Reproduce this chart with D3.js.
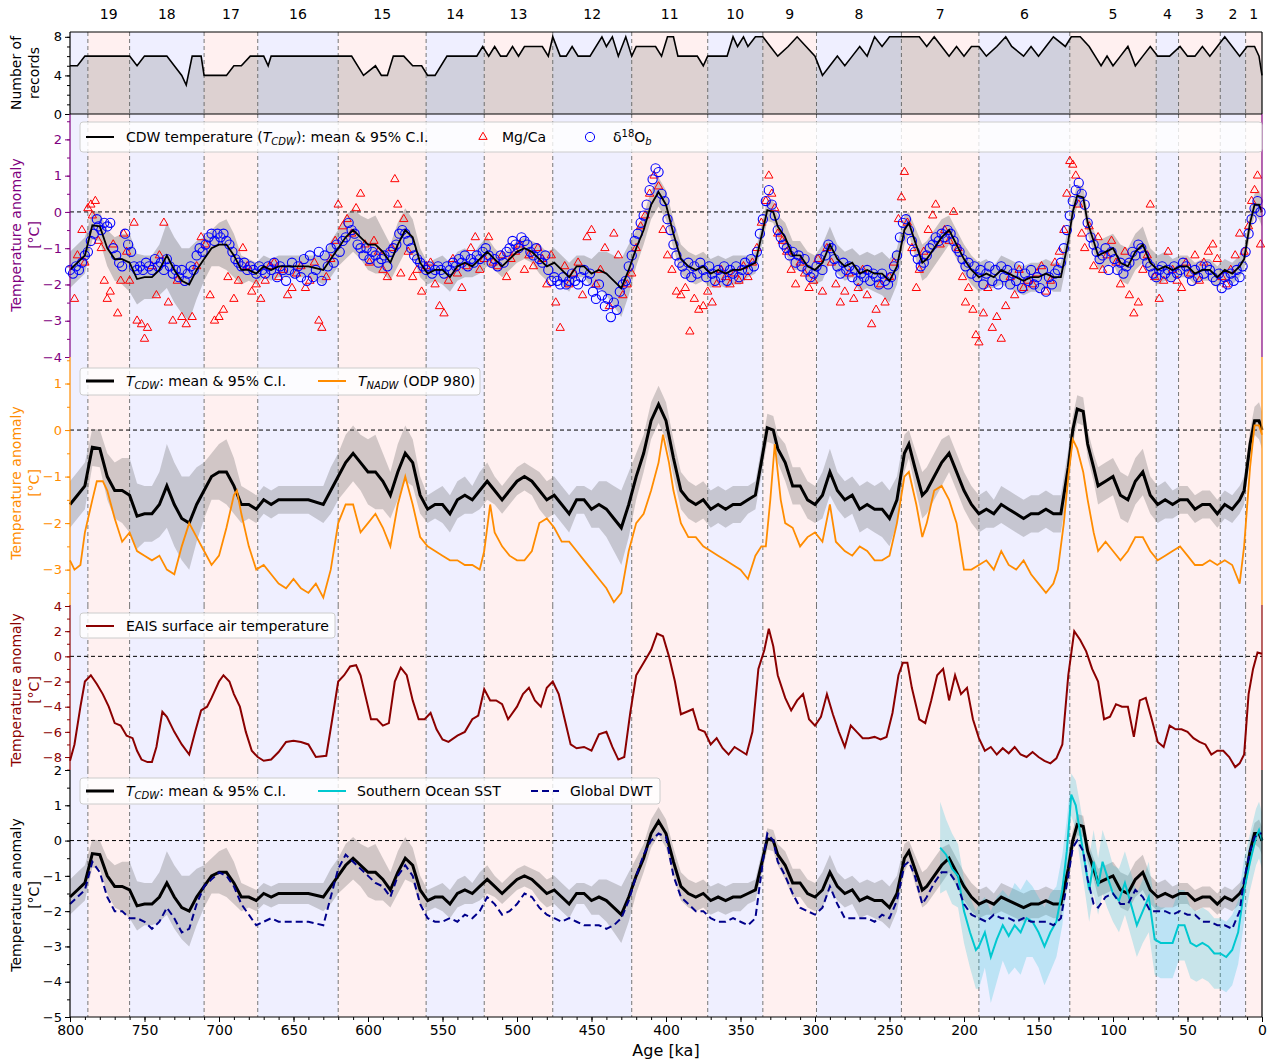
<!DOCTYPE html>
<html><head><meta charset="utf-8">
<script src="https://cdn.jsdelivr.net/npm/d3@7"></script>
<style>body{margin:0;background:#fff}svg{font-family:"DejaVu Sans",sans-serif}</style>
</head><body><svg id="c" width="1274" height="1063"></svg>
<script>
// MIS stage boundaries (ka) and labels
const bounds = [800, 788, 760, 710, 674, 620, 561, 522, 476, 423, 372, 335, 299, 242, 190, 129, 71, 56, 28, 11, 0];
const stageNames = [20, 19, 18, 17, 16, 15, 14, 13, 12, 11, 10, 9, 8, 7, 6, 5, 4, 3, 2, 1];

// number of records
const recAge = [800,795,790,785,760,755,750,735,730,725,722,718,712,710,695,690,685,679,670,667,665,611,603,595,591,587,583,576,570,564,560,555,547,527,523,519,515,511,507,503,499,495,483,479,476,471,467,463,459,451,443,440,436,432,427,423,420,407,403,399,395,392,379,375,372,359,355,352,348,345,340,335,330,325,318,312,306,300,295,290,285,280,275,270,265,260,255,250,240,230,225,220,215,210,205,200,195,190,185,178,172,168,160,155,150,145,140,132,128,122,116,112,108,104,100,95,90,85,80,75,70,62,55,50,45,40,35,30,25,20,15,10,5,2,0];
const recN =   [5,5,6,6,6,5,6,6,5,4,3,6,6,4,4,5,5,6,6,5,6,6,4,5,4,4,6,6,5,5,4,4,6,6,7,6,7,6,6,7,6,7,7,6,8,6,6,7,6,6,8,7,8,6,8,6,7,7,6,8,8,6,6,5,6,6,8,7,8,7,8,8,7,6,7,8,7,6,4,5,6,5,6,7,6,8,7,8,8,8,7,8,7,6,7,6,7,7,6,7,8,7,6,7,6,7,8,7,8,8,7,6,5,6,5,6,7,5,6,7,6,6,7,6,6,7,6,7,8,7,6,7,7,6,4];

// CDW temperature stack: ages, mean, 95% CI half width
const cdwAge = [800,795,790,785,780,775,770,765,760,755,750,745,740,735,730,725,720,715,710,705,700,695,690,685,680,675,670,665,660,650,640,630,625,620,615,610,605,600,595,590,585,580,575,570,565,560,555,550,545,540,535,530,525,520,515,510,505,500,495,490,485,480,475,470,465,460,455,450,445,440,435,430,425,420,415,410,405,400,395,390,385,380,375,370,365,360,355,350,345,340,335,332,328,325,320,315,310,305,300,295,290,285,280,275,270,265,260,255,250,245,240,237,233,228,225,220,215,210,205,200,195,190,185,180,175,170,165,160,155,150,145,140,135,130,127,124,120,117,113,110,105,100,95,90,85,80,75,70,65,60,55,50,45,40,35,30,25,20,15,12,8,5,2,0];
const cdwMean = [-1.6,-1.4,-1.2,-0.37,-0.4,-1.0,-1.3,-1.3,-1.4,-1.85,-1.8,-1.8,-1.6,-1.2,-1.6,-1.9,-2.0,-1.6,-1.3,-1.0,-0.9,-0.9,-1.2,-1.6,-1.6,-1.7,-1.5,-1.6,-1.5,-1.5,-1.5,-1.6,-1.3,-1.0,-0.7,-0.5,-0.7,-0.9,-0.9,-1.1,-1.4,-0.9,-0.5,-0.7,-1.4,-1.7,-1.6,-1.6,-1.8,-1.5,-1.4,-1.5,-1.3,-1.1,-1.3,-1.5,-1.3,-1.1,-1.0,-1.1,-1.3,-1.5,-1.4,-1.6,-1.8,-1.5,-1.5,-1.7,-1.6,-1.7,-1.9,-2.1,-1.6,-1.0,-0.5,0.2,0.55,0.2,-0.6,-1.3,-1.5,-1.6,-1.5,-1.7,-1.6,-1.7,-1.6,-1.6,-1.5,-1.4,-0.5,0.05,0.0,-0.4,-0.7,-1.2,-1.2,-1.5,-1.6,-1.4,-0.9,-1.3,-1.5,-1.4,-1.7,-1.6,-1.7,-1.7,-1.9,-1.5,-0.5,-0.3,-0.8,-1.4,-1.3,-1.0,-0.7,-0.5,-0.9,-1.3,-1.6,-1.8,-1.7,-1.8,-1.6,-1.7,-1.8,-1.9,-1.8,-1.8,-1.7,-1.8,-1.8,-0.8,0.0,0.45,0.4,-0.3,-0.8,-1.2,-1.1,-1.0,-1.4,-1.5,-1.1,-0.9,-1.4,-1.6,-1.5,-1.6,-1.5,-1.5,-1.7,-1.6,-1.6,-1.8,-1.6,-1.7,-1.5,-1.3,-0.3,0.2,0.2,0.0];
const cdwCI = [0.5,0.5,0.5,0.4,0.4,0.5,0.6,0.7,0.8,0.7,0.6,0.6,0.7,0.9,0.9,0.9,1.0,0.8,0.6,0.5,0.6,0.7,0.6,0.4,0.3,0.3,0.3,0.3,0.3,0.3,0.3,0.4,0.5,0.5,0.6,0.6,0.6,0.7,0.8,0.6,0.5,0.6,0.6,0.5,0.4,0.3,0.3,0.4,0.4,0.4,0.4,0.3,0.4,0.4,0.3,0.3,0.3,0.3,0.3,0.3,0.4,0.4,0.4,0.4,0.4,0.3,0.3,0.4,0.5,0.6,0.7,0.8,0.7,0.5,0.4,0.4,0.4,0.4,0.4,0.4,0.4,0.4,0.4,0.4,0.4,0.4,0.4,0.4,0.3,0.3,0.3,0.3,0.3,0.3,0.4,0.4,0.4,0.4,0.4,0.5,0.5,0.4,0.4,0.4,0.5,0.5,0.5,0.6,0.6,0.5,0.4,0.3,0.4,0.5,0.5,0.5,0.5,0.4,0.4,0.4,0.4,0.4,0.4,0.3,0.4,0.4,0.4,0.4,0.4,0.4,0.4,0.4,0.4,0.4,0.3,0.3,0.3,0.3,0.3,0.4,0.4,0.4,0.5,0.5,0.5,0.5,0.4,0.4,0.4,0.3,0.3,0.3,0.3,0.3,0.3,0.3,0.3,0.3,0.3,0.3,0.3,0.3,0.4,0.4,0.3,0.3];

// d18O_b based temperatures [age, value]
const d18o = [[800,-1.6],[798,-1.7],[796,-1.5],[794,-1.6],[792,-1.4],[790,-1.2],[788,-1.1],[786,-0.8],[784,-0.6],[782,-0.2],[781,-0.4],[779,-0.5],[777,-0.3],[775,-0.4],[773,-0.3],[771,-1.0],[769,-1.2],[767,-1.4],[765,-1.5],[763,-0.6],[761,-0.9],[759,-1.1],[757,-1.5],[755,-1.6],[753,-1.5],[751,-1.6],[749,-1.4],[747,-1.5],[745,-1.6],[743,-1.3],[741,-1.5],[739,-1.4],[737,-1.6],[735,-1.3],[733,-1.5],[731,-1.7],[729,-1.6],[727,-1.8],[725,-1.6],[723,-1.9],[721,-1.7],[719,-1.5],[717,-1.6],[715,-1.2],[713,-1.0],[711,-1.1],[709,-0.9],[707,-0.7],[705,-0.6],[703,-0.8],[701,-0.6],[699,-0.7],[697,-0.6],[695,-0.8],[693,-0.9],[691,-1.1],[689,-1.3],[687,-1.4],[685,-1.5],[683,-1.4],[681,-1.6],[679,-1.5],[677,-1.6],[675,-1.7],[673,-1.5],[671,-1.6],[669,-1.7],[667,-1.5],[665,-1.6],[663,-1.4],[661,-1.8],[659,-1.5],[657,-1.6],[655,-1.9],[653,-1.6],[651,-1.4],[649,-1.7],[647,-1.5],[645,-1.8],[643,-1.3],[641,-1.9],[639,-1.2],[637,-1.8],[635,-1.6],[633,-1.1],[631,-1.9],[629,-1.2],[627,-1.5],[625,-1.0],[623,-1.4],[621,-0.9],[619,-1.1],[617,-0.8],[615,-0.7],[613,-0.3],[611,-0.5],[609,-0.6],[607,-0.9],[605,-1.0],[603,-1.2],[601,-1.0],[599,-1.3],[597,-1.1],[595,-1.2],[593,-1.4],[591,-1.3],[589,-1.2],[587,-1.5],[585,-1.1],[583,-1.0],[581,-0.9],[579,-0.6],[577,-0.5],[575,-0.6],[573,-0.8],[571,-1.0],[569,-1.2],[567,-1.3],[565,-1.4],[563,-1.5],[561,-1.6],[559,-1.5],[557,-1.7],[555,-1.6],[553,-1.5],[551,-1.6],[549,-1.7],[547,-1.5],[545,-1.6],[543,-1.4],[541,-1.5],[539,-1.3],[537,-1.4],[535,-1.2],[533,-1.5],[531,-1.3],[529,-1.4],[527,-1.2],[525,-1.3],[523,-1.1],[521,-1.0],[519,-1.2],[517,-1.4],[515,-1.3],[513,-1.5],[511,-1.2],[509,-1.4],[507,-1.1],[505,-1.0],[503,-0.8],[501,-0.9],[499,-1.0],[497,-0.7],[495,-0.8],[493,-0.9],[491,-1.1],[489,-1.2],[487,-1.0],[485,-1.3],[483,-1.4],[481,-1.2],[479,-1.6],[477,-1.9],[475,-1.8],[473,-1.9],[471,-2.0],[469,-1.8],[467,-2.0],[465,-1.9],[463,-1.7],[461,-1.9],[459,-2.0],[457,-1.8],[455,-1.6],[453,-1.9],[451,-1.7],[449,-2.2],[447,-2.4],[445,-2.0],[443,-2.3],[441,-2.6],[439,-2.4],[437,-2.9],[435,-2.5],[433,-2.7],[431,-2.2],[429,-2.0],[427,-1.9],[425,-1.5],[423,-1.2],[421,-0.8],[419,-0.6],[417,-0.3],[415,-0.1],[413,0.2],[411,0.6],[409,0.9],[407,1.2],[405,1.1],[403,0.5],[401,0.3],[399,-0.2],[397,-0.5],[395,-0.9],[393,-1.2],[391,-1.4],[389,-1.5],[387,-1.7],[385,-1.4],[383,-1.8],[381,-1.5],[379,-1.7],[377,-1.4],[375,-1.6],[373,-1.8],[371,-1.5],[369,-1.7],[367,-1.9],[365,-1.6],[363,-1.8],[361,-1.5],[359,-1.9],[357,-1.6],[355,-1.7],[353,-1.5],[351,-1.8],[349,-1.6],[347,-1.4],[345,-1.6],[343,-1.3],[341,-1.5],[339,-1.1],[337,-0.6],[335,-0.2],[333,0.3],[331,0.6],[329,0.2],[327,-0.1],[325,-0.5],[323,-0.7],[321,-0.9],[319,-1.0],[317,-1.2],[315,-1.1],[313,-1.4],[311,-1.2],[309,-1.5],[307,-1.3],[305,-1.6],[303,-1.8],[301,-1.7],[299,-1.5],[297,-1.3],[295,-1.6],[293,-1.2],[291,-0.9],[289,-1.0],[287,-1.3],[285,-1.5],[283,-1.7],[281,-1.4],[279,-1.6],[277,-1.5],[275,-1.8],[273,-1.6],[271,-1.9],[269,-1.7],[267,-1.8],[265,-1.6],[263,-1.9],[261,-1.7],[259,-1.8],[257,-2.0],[255,-1.7],[253,-1.9],[251,-2.0],[249,-1.8],[247,-1.5],[245,-1.2],[243,-0.7],[241,-0.3],[239,-0.2],[237,-0.5],[235,-0.8],[233,-1.1],[231,-1.3],[229,-1.5],[227,-1.4],[225,-1.2],[223,-1.0],[221,-0.9],[219,-0.7],[217,-0.8],[215,-0.6],[213,-0.7],[211,-0.5],[209,-0.6],[207,-0.8],[205,-1.0],[203,-1.1],[201,-1.3],[199,-1.5],[197,-1.4],[195,-1.7],[193,-1.5],[191,-1.8],[189,-1.6],[187,-2.0],[185,-1.7],[183,-1.5],[181,-1.9],[179,-1.6],[177,-2.0],[175,-1.5],[173,-1.8],[171,-1.6],[169,-2.0],[167,-1.7],[165,-1.9],[163,-1.5],[161,-2.1],[159,-1.7],[157,-1.9],[155,-1.6],[153,-2.0],[151,-1.8],[149,-2.1],[147,-1.6],[145,-2.2],[143,-1.8],[141,-2.0],[139,-1.7],[137,-1.6],[135,-1.4],[133,-1.0],[131,-0.5],[129,-0.1],[127,0.3],[125,0.6],[123,0.8],[121,0.5],[119,0.2],[117,-0.3],[115,-0.7],[113,-0.9],[111,-1.1],[109,-1.3],[107,-1.2],[105,-1.0],[103,-1.6],[101,-1.1],[99,-1.3],[97,-1.6],[95,-1.4],[93,-1.7],[91,-1.5],[89,-1.4],[87,-1.1],[85,-1.2],[83,-0.9],[81,-1.0],[79,-1.2],[77,-1.4],[75,-1.5],[73,-1.7],[71,-1.8],[69,-1.6],[67,-1.5],[65,-1.7],[63,-1.6],[61,-1.8],[59,-1.5],[57,-1.7],[55,-1.6],[53,-1.4],[51,-1.5],[49,-1.7],[47,-1.9],[45,-1.6],[43,-1.8],[41,-1.5],[39,-1.7],[37,-1.5],[35,-1.6],[33,-1.8],[31,-1.9],[29,-1.7],[27,-2.1],[25,-1.8],[23,-2.0],[21,-1.7],[19,-1.9],[17,-1.6],[15,-1.8],[13,-1.5],[11,-1.1],[9,-0.6],[7,-0.2],[5,0.1],[3,0.3],[1,0.0]];

// Mg/Ca based temperatures [age, value]
const mgca = [[797,-2.4],[795,-1.2],[792,-0.5],[790,-1.4],[788,0.1],[786,0.2],[785,-0.1],[783,0.3],[781,-0.8],[779,-1.0],[777,-1.9],[775,-2.4],[773,-2.2],[771,-0.9],[768,-2.8],[766,-1.9],[764,-0.6],[762,-1.1],[760,-1.9],[757,-0.3],[755,-3.0],[752,-3.1],[750,-3.5],[748,-3.2],[745,-1.5],[742,-2.3],[740,-1.2],[737,-0.3],[734,-2.5],[731,-3.0],[728,-1.9],[725,-2.9],[722,-3.1],[718,-2.9],[715,-1.5],[712,-0.7],[709,-0.9],[706,-2.3],[703,-3.0],[700,-2.9],[697,-2.7],[694,-1.8],[690,-2.4],[687,-1.9],[684,-1.0],[681,-1.5],[678,-2.2],[675,-2.0],[672,-2.4],[669,-1.9],[666,-1.5],[663,-1.4],[660,-1.8],[657,-1.6],[654,-2.3],[651,-2.1],[648,-1.7],[645,-1.5],[642,-2.1],[639,-1.9],[636,-1.4],[633,-3.0],[631,-3.2],[628,-1.8],[625,-1.3],[622,-0.8],[620,0.2],[617,-0.4],[614,-0.2],[611,-0.6],[608,0.1],[605,0.5],[602,-0.9],[599,-1.4],[596,-0.8],[593,-1.1],[590,-1.6],[587,-1.8],[584,-1.0],[582,0.9],[580,0.2],[578,-1.7],[576,-0.2],[573,-1.1],[570,-1.8],[567,-1.6],[564,-2.2],[561,-1.5],[558,-1.4],[555,-2.0],[552,-2.6],[549,-2.8],[546,-1.9],[543,-1.3],[540,-1.7],[537,-2.1],[534,-1.5],[531,-1.0],[528,-0.7],[525,-1.6],[522,-1.3],[519,-0.7],[516,-1.4],[513,-1.5],[510,-1.2],[507,-1.8],[504,-1.3],[501,-1.1],[498,-0.9],[495,-1.6],[492,-1.2],[489,-1.5],[486,-1.0],[483,-1.3],[480,-2.0],[477,-1.2],[474,-2.5],[471,-3.2],[468,-1.5],[465,-2.0],[462,-1.7],[459,-1.4],[456,-2.3],[453,-0.7],[450,-0.5],[447,-2.0],[444,-1.6],[441,-1.0],[438,-2.6],[435,-0.6],[432,-1.2],[429,-2.3],[426,-2.0],[423,-1.7],[420,-1.0],[417,-0.4],[414,-0.1],[411,0.5],[408,1.0],[405,0.7],[402,-0.5],[399,-1.2],[396,-1.6],[393,-2.2],[390,-2.3],[387,-2.1],[384,-3.3],[381,-2.4],[378,-2.7],[375,-2.6],[372,-2.2],[369,-2.5],[366,-2.0],[363,-1.6],[360,-1.8],[357,-2.0],[354,-1.7],[351,-1.9],[348,-1.5],[345,-1.8],[342,-1.4],[339,-1.0],[336,-0.3],[333,0.3],[331,1.0],[329,0.5],[327,0.1],[325,-0.6],[322,-0.8],[319,-1.1],[316,-1.6],[313,-2.0],[310,-1.4],[307,-1.7],[304,-2.1],[301,-1.9],[298,-1.3],[295,-2.2],[292,-1.0],[289,-1.4],[286,-2.0],[283,-2.5],[280,-2.2],[277,-1.7],[274,-2.4],[271,-2.1],[268,-1.6],[265,-2.3],[262,-3.1],[259,-2.7],[256,-2.0],[253,-2.5],[250,-1.8],[247,-1.4],[244,-0.2],[242,0.4],[240,1.1],[238,-0.3],[235,-1.0],[232,-2.1],[230,-1.6],[227,-1.1],[224,-0.5],[221,-0.1],[219,0.2],[216,-0.9],[213,-0.5],[210,-0.8],[207,0.0],[204,-1.0],[201,-1.8],[199,-2.5],[197,-2.1],[194,-2.7],[192,-3.4],[190,-3.6],[187,-2.8],[184,-2.1],[181,-3.2],[178,-2.9],[175,-3.5],[172,-2.6],[169,-1.8],[166,-2.3],[163,-1.6],[160,-2.1],[157,-1.9],[154,-2.0],[151,-1.7],[148,-1.5],[145,-2.2],[142,-1.9],[139,-1.4],[136,-1.1],[133,-0.5],[131,0.5],[129,1.4],[127,1.3],[125,1.0],[123,0.2],[121,-0.6],[119,-1.0],[116,-0.4],[113,-1.5],[110,-0.7],[107,-1.6],[104,-1.2],[101,-0.8],[98,-1.4],[95,-2.0],[92,-1.1],[89,-2.3],[86,-2.8],[83,-2.5],[80,-1.6],[77,-1.2],[75,0.2],[72,-1.8],[69,-2.4],[66,-1.9],[63,-1.1],[60,-1.6],[57,-1.9],[54,-2.1],[51,-1.4],[48,-1.7],[45,-1.2],[42,-1.9],[39,-1.4],[36,-1.1],[33,-0.9],[30,-1.3],[27,-1.8],[24,-2.0],[21,-1.6],[18,-1.2],[15,-0.6],[12,-1.1],[9,-0.4],[7,0.3],[5,0.6],[3,1.0],[1,-0.9]];

// NADW temperature (ODP 980)
const nadwAge = [800,797,793,790,785,782,778,775,770,765,760,755,750,745,740,735,730,725,720,715,710,705,700,695,690,688,685,680,675,670,665,660,655,650,645,640,635,630,625,620,615,610,605,600,595,590,585,580,575,570,565,560,555,550,545,540,535,530,525,522,518,515,510,505,500,495,490,485,480,475,470,465,460,455,450,445,440,435,430,425,420,415,410,405,402,398,395,390,385,380,375,370,365,360,355,350,345,340,336,333,330,327,323,320,315,310,305,300,295,290,286,280,275,270,265,260,255,250,245,240,237,232,228,225,220,215,210,205,200,195,190,185,180,175,170,165,160,155,150,145,140,137,133,130,127,124,120,117,113,110,105,100,95,90,85,80,75,70,65,60,55,50,45,40,35,30,25,20,15,12,8,5,2,0];
const nadwT = [-2.8,-3.0,-2.9,-2.2,-1.5,-1.1,-1.1,-1.3,-1.9,-2.4,-2.2,-2.6,-2.7,-2.8,-2.7,-3.0,-3.1,-2.5,-2.0,-2.3,-2.6,-2.9,-2.7,-2.1,-1.4,-1.3,-1.8,-2.5,-3.0,-2.9,-3.1,-3.3,-3.4,-3.2,-3.4,-3.5,-3.3,-3.6,-3.0,-2.0,-1.6,-1.6,-2.2,-2.0,-1.8,-2.1,-2.5,-1.6,-1.0,-1.6,-2.3,-2.5,-2.6,-2.7,-2.8,-2.8,-2.9,-2.9,-3.0,-2.6,-1.6,-2.2,-2.5,-2.7,-2.8,-2.8,-2.6,-2.0,-1.9,-2.1,-2.4,-2.4,-2.6,-2.8,-3.0,-3.2,-3.4,-3.7,-3.5,-2.6,-2.0,-1.8,-1.3,-0.7,-0.1,-0.7,-1.3,-2.0,-2.3,-2.3,-2.5,-2.6,-2.7,-2.8,-2.9,-3.0,-3.2,-2.7,-2.5,-2.5,-1.5,-0.3,-1.5,-2.0,-2.1,-2.5,-2.3,-2.2,-2.4,-1.6,-2.4,-2.6,-2.7,-2.5,-2.6,-2.8,-2.8,-2.7,-2.0,-1.0,-0.9,-1.6,-2.3,-2.0,-1.3,-1.2,-1.5,-2.0,-3.0,-3.0,-2.9,-2.8,-3.0,-2.6,-2.9,-3.0,-2.8,-3.1,-3.3,-3.5,-3.3,-3.0,-2.0,-1.0,-0.2,-0.4,-0.9,-1.5,-2.2,-2.6,-2.4,-2.6,-2.8,-2.6,-2.3,-2.3,-2.6,-2.8,-2.7,-2.6,-2.5,-2.7,-2.9,-2.9,-2.8,-2.9,-2.8,-2.9,-3.3,-2.5,-0.8,0.1,0.1,-0.1];

// EAIS surface air temperature
const eaisAge = [800,797,793,790,786,782,778,774,770,766,762,758,755,752,748,745,742,738,735,730,725,720,716,712,708,705,700,697,693,690,686,682,678,674,670,665,660,655,650,645,640,635,628,624,620,616,612,608,605,602,598,594,590,586,582,578,574,570,566,562,558,554,550,546,540,535,530,526,522,518,514,510,506,500,496,492,488,484,480,476,472,468,464,460,455,450,445,440,436,432,428,424,420,415,410,406,402,398,394,390,386,382,378,374,370,366,362,358,354,350,346,342,338,334,331,328,325,320,316,312,308,304,300,296,292,288,284,280,276,272,268,264,260,256,252,248,244,241,238,235,230,226,222,218,214,210,206,202,198,194,190,186,182,178,174,170,166,162,158,154,150,146,142,138,134,130,126,122,118,114,110,106,102,98,94,90,86,82,78,74,70,66,62,58,54,50,46,42,38,34,30,26,22,18,15,12,9,6,3,0];
const eaisT = [-8.3,-7,-4,-2.0,-1.5,-2.2,-3,-4,-5.3,-5.5,-6.3,-6.5,-7.5,-8.2,-8.4,-8.4,-7.2,-4.4,-4.8,-6.0,-7.0,-7.8,-6.0,-4.3,-4.0,-3.3,-2.0,-1.5,-2.0,-3.0,-4.0,-6.0,-7.5,-8.0,-8.3,-8.2,-7.6,-6.8,-6.7,-6.8,-7.0,-8.0,-7.9,-5.0,-2.0,-1.5,-0.8,-0.7,-1.5,-3.0,-5.0,-5.0,-5.5,-5.3,-2.0,-0.9,-1.5,-3.5,-5.0,-5.0,-4.5,-5.8,-6.6,-6.8,-6.3,-6.0,-5.0,-4.7,-2.6,-3.5,-3.5,-3.8,-5.0,-4.0,-3.0,-2.5,-3.5,-4.0,-2.5,-2.0,-3.0,-5.0,-7.0,-7.3,-7.2,-7.5,-6.2,-6.0,-7.2,-8.2,-8.0,-4.5,-1.5,-0.5,0.5,1.8,1.6,0,-2.0,-4.6,-4.4,-4.2,-5.8,-6.0,-7.0,-6.5,-7.3,-7.8,-7.2,-7.5,-7.8,-6.0,-1.0,0.5,2.2,0.8,-1.5,-3.3,-4.3,-3.5,-3.0,-5.0,-5.5,-4.8,-3.0,-4.6,-6.0,-7.2,-5.5,-6.0,-6.5,-6.5,-6.4,-6.6,-6.4,-4.5,-1.5,-0.5,-0.5,-2.5,-5.0,-5.3,-3.5,-1.5,-1.0,-3.5,-1.5,-3.0,-2.5,-5.0,-6.5,-7.5,-7.2,-7.8,-7.3,-7.7,-7.2,-7.8,-8.0,-7.6,-8.0,-8.3,-8.5,-8.1,-7.0,-1.5,2.0,1.3,0.4,-1.0,-2.0,-5.0,-4.8,-3.8,-4.0,-4.0,-6.4,-3.5,-3.3,-5.0,-6.8,-7.2,-5.5,-5.8,-5.8,-6.0,-6.5,-6.8,-7.0,-7.8,-7.5,-7.5,-8.0,-8.8,-8.5,-7.8,-3.0,-1.0,0.3,0.2];

// Global deep water temperature (same ages as the CDW stack)
const dwtAge = cdwAge;
const dwtT = [-1.8,-1.6,-1.4,-0.6,-0.9,-1.6,-2.0,-2.0,-2.2,-2.2,-2.3,-2.5,-2.3,-1.9,-2.2,-2.6,-2.5,-1.8,-1.3,-1.1,-0.9,-1.0,-1.3,-1.8,-2.1,-2.4,-2.3,-2.2,-2.3,-2.3,-2.3,-2.4,-1.6,-0.8,-0.4,-0.6,-0.8,-1.0,-1.2,-1.3,-1.6,-1.0,-0.7,-1.0,-1.8,-2.2,-2.3,-2.3,-2.2,-2.3,-2.1,-2.2,-2.0,-1.6,-1.8,-2.1,-2.0,-1.8,-1.5,-1.6,-1.9,-2.1,-2.2,-2.3,-2.2,-2.3,-2.4,-2.4,-2.4,-2.5,-2.4,-2.2,-1.7,-1.0,-0.4,0.0,0.2,0.1,-1.0,-1.6,-1.8,-2.0,-2.0,-2.2,-2.3,-2.3,-2.2,-2.3,-2.4,-2.2,-0.6,0.2,0.0,-0.6,-1.0,-1.5,-1.9,-2.0,-2.1,-1.9,-1.3,-1.8,-2.2,-2.2,-2.2,-2.2,-2.3,-2.1,-2.2,-1.7,-0.7,-0.6,-1.0,-1.8,-1.6,-1.2,-0.9,-0.9,-1.2,-1.8,-2.1,-2.2,-2.3,-2.1,-2.2,-2.2,-2.3,-2.2,-2.3,-2.3,-2.3,-2.4,-2.2,-1.0,-0.2,0.0,-0.3,-1.1,-1.8,-1.9,-1.6,-1.5,-1.8,-1.8,-1.4,-1.6,-2.0,-2.0,-2.0,-2.1,-2.0,-2.1,-2.1,-2.3,-2.3,-2.4,-2.4,-2.5,-2.0,-1.1,-0.3,0.1,0.2,0.2];

// Southern Ocean SST
const sstAge = [216,212,208,204,200,196,192,190,186,182,178,174,170,166,162,158,154,150,146,142,138,134,131,128,125,122,119,116,113,110,107,104,100,96,92,88,84,80,76,72,68,64,60,56,52,48,44,40,36,32,28,24,20,16,12,8,4,2,0];
const sstT = [-0.2,-0.4,-0.8,-1.0,-2.0,-2.6,-3.1,-3.0,-2.6,-3.3,-2.8,-2.4,-2.7,-2.4,-2.6,-2.2,-2.3,-2.6,-3.0,-2.6,-2.3,-1.4,-0.3,1.3,1.0,0.2,-0.6,-1.4,-0.6,-1.3,-0.6,-1.0,-1.5,-1.7,-1.2,-1.8,-2.4,-2.0,-1.6,-2.8,-2.9,-2.9,-2.9,-2.4,-2.4,-2.9,-3.0,-2.9,-3.0,-3.2,-3.2,-3.3,-3.1,-2.6,-1.4,-0.6,0.1,0.3,0.0];
const sstCI = [1.3,1.0,1.0,0.9,0.9,1.0,1.1,1.2,1.0,1.3,1.2,1.0,1.1,1.2,1.2,1.1,1.0,1.0,1.1,1.1,1.0,1.0,0.9,0.6,0.7,0.8,0.8,0.9,0.9,0.8,0.9,0.9,0.8,0.9,0.9,0.9,0.9,0.9,1.0,1.0,1.0,1.0,1.0,1.0,1.0,1.0,1.0,1.0,1.0,1.0,1.0,1.0,1.0,0.9,0.9,0.8,0.8,0.8,0.8];

const svg = d3.select("#c");
const L = 70, R = 1262;
const x = d3.scaleLinear().domain([800, 0]).range([L, R]);
const glacialCol = "#efefff", interCol = "#fff0f0";

const panels = [
  {top: 32, bot: 114, dom: [0, 8.5], ticks: [0, 4, 8], minor: d3.range(0, 9, 1), col: "#000"},
  {top: 114, bot: 357, dom: [-4, 2.7], ticks: [-4, -3, -2, -1, 0, 1, 2], minor: d3.range(-4, 2.6, 0.5), col: "#800080"},
  {top: 357, bot: 605, dom: [-3.76, 1.57], ticks: [-3, -2, -1, 0, 1], minor: d3.range(-3.5, 1.6, 0.5), col: "#ff8c00"},
  {top: 605, bot: 770, dom: [-9.03, 4.08], ticks: [-8, -6, -4, -2, 0, 2, 4], minor: d3.range(-9, 4.1, 1), col: "#8b0000"},
  {top: 770, bot: 1017, dom: [-5, 2], ticks: [-5, -4, -3, -2, -1, 0, 1, 2], minor: d3.range(-5, 2.1, 0.5), col: "#000"}
];
panels.forEach(p => p.y = d3.scaleLinear().domain(p.dom).range([p.bot, p.top]));

// background shading and stage boundaries
panels.forEach(p => {
  const g = svg.append("g");
  for (let i = 0; i < stageNames.length; i++) {
    g.append("rect").attr("x", x(bounds[i])).attr("width", x(bounds[i + 1]) - x(bounds[i]))
      .attr("y", p.top).attr("height", p.bot - p.top)
      .attr("fill", stageNames[i] % 2 === 0 ? glacialCol : interCol);
  }
  bounds.slice(1, -1).forEach(b => {
    g.append("line").attr("x1", x(b)).attr("x2", x(b)).attr("y1", p.top).attr("y2", p.bot)
      .attr("stroke", "#777").attr("stroke-dasharray", "4,3").attr("stroke-width", 1);
  });
});

// stage labels on top
stageNames.forEach((s, i) => {
  if (s === 20) return;
  svg.append("text").attr("x", x((bounds[i] + bounds[i + 1]) / 2)).attr("y", 19)
    .attr("text-anchor", "middle").attr("font-size", 14).text(s);
});

const line = (ys) => d3.line().x(d => x(d[0])).y(d => ys(d[1]));
const zip = (a, b) => a.map((v, i) => [v, b[i]]);

// panel 1: number of records
{
  const p = panels[0];
  const pts = zip(recAge, recN);
  svg.append("path").datum(pts).attr("fill", "#555").attr("fill-opacity", 0.2)
    .attr("d", d3.area().x(d => x(d[0])).y0(p.y(0)).y1(d => p.y(d[1])));
  svg.append("path").datum(pts).attr("fill", "none").attr("stroke", "#000").attr("stroke-width", 1.6).attr("d", line(p.y));
}

function band(p, ages, mean, ci, fill, op) {
  const pts = ages.map((a, i) => [a, mean[i], ci[i]]);
  svg.append("path").datum(pts).attr("fill", fill).attr("fill-opacity", op)
    .attr("d", d3.area().x(d => x(d[0])).y0(d => p.y(d[1] - d[2])).y1(d => p.y(d[1] + d[2])));
}
function zero(p) {
  svg.append("line").attr("x1", L).attr("x2", R).attr("y1", p.y(0)).attr("y2", p.y(0))
    .attr("stroke", "#000").attr("stroke-dasharray", "4,3").attr("stroke-width", 1);
}
const cdwPts = zip(cdwAge, cdwMean);

// panel 2: proxies
{
  const p = panels[1];
  zero(p);
  band(p, cdwAge, cdwMean, cdwCI, "#666", 0.35);
  const tri = d3.symbol().type(d3.symbolTriangle).size(30);
  svg.append("g").selectAll("path").data(mgca).join("path")
    .attr("transform", d => `translate(${x(d[0])},${p.y(d[1])})`).attr("d", tri)
    .attr("fill", "none").attr("stroke", "red").attr("stroke-width", 1);
  svg.append("g").selectAll("circle").data(d18o).join("circle")
    .attr("cx", d => x(d[0])).attr("cy", d => p.y(d[1])).attr("r", 4.6)
    .attr("fill", "none").attr("stroke", "blue").attr("stroke-width", 1.1);
  svg.append("path").datum(cdwPts).attr("fill", "none").attr("stroke", "#000").attr("stroke-width", 1.8).attr("d", line(p.y));
}
// panel 3: NADW
{
  const p = panels[2];
  zero(p);
  band(p, cdwAge, cdwMean, cdwCI, "#666", 0.3);
  svg.append("path").datum(cdwPts).attr("fill", "none").attr("stroke", "#000").attr("stroke-width", 3).attr("d", line(p.y));
  svg.append("path").datum(zip(nadwAge, nadwT)).attr("fill", "none").attr("stroke", "#ff8c00").attr("stroke-width", 1.8).attr("d", line(p.y));
}
// panel 4: EAIS
{
  const p = panels[3];
  zero(p);
  svg.append("path").datum(zip(eaisAge, eaisT)).attr("fill", "none").attr("stroke", "#8b0000").attr("stroke-width", 2).attr("d", line(p.y));
}
// panel 5: SST and DWT
{
  const p = panels[4];
  zero(p);
  band(p, cdwAge, cdwMean, cdwCI, "#666", 0.3);
  band(p, sstAge, sstT, sstCI, "#22c0d8", 0.25);
  svg.append("path").datum(cdwPts).attr("fill", "none").attr("stroke", "#000").attr("stroke-width", 3).attr("d", line(p.y));
  svg.append("path").datum(zip(sstAge, sstT)).attr("fill", "none").attr("stroke", "#00c8d0").attr("stroke-width", 2).attr("d", line(p.y));
  svg.append("path").datum(zip(dwtAge, dwtT)).attr("fill", "none").attr("stroke", "#00008b").attr("stroke-width", 2)
    .attr("stroke-dasharray", "7,4").attr("d", line(p.y));
}

// axes and frames
panels.forEach((p, i) => {
  const ax = svg.append("g").attr("transform", `translate(${L},0)`)
    .call(d3.axisLeft(p.y).tickValues(p.ticks).tickSize(5).tickFormat(d => d < 0 ? "\u2212" + Math.abs(d) : d));
  ax.select(".domain").remove();
  ax.selectAll("text").attr("font-size", 13).attr("fill", p.col).attr("font-family", "DejaVu Sans");
  ax.selectAll("line").attr("stroke", p.col);
  const mg = svg.append("g").attr("transform", `translate(${L},0)`)
    .call(d3.axisLeft(p.y).tickValues(p.minor).tickSize(3).tickFormat(""));
  mg.select(".domain").remove();
  mg.selectAll("line").attr("stroke", p.col);
  svg.append("line").attr("x1", L).attr("x2", L).attr("y1", p.top).attr("y2", p.bot).attr("stroke", p.col).attr("stroke-width", 1.2);
  svg.append("line").attr("x1", R).attr("x2", R).attr("y1", p.top).attr("y2", p.bot).attr("stroke", p.col).attr("stroke-width", 1.2);
});
svg.append("line").attr("x1", L).attr("x2", R).attr("y1", 32).attr("y2", 32).attr("stroke", "#000");
svg.append("line").attr("x1", L).attr("x2", R).attr("y1", 114).attr("y2", 114).attr("stroke", "#000");
svg.append("line").attr("x1", L).attr("x2", R).attr("y1", 1017).attr("y2", 1017).attr("stroke", "#000");

const xa = svg.append("g").attr("transform", "translate(0,1017)")
  .call(d3.axisBottom(x).tickValues(d3.range(800, -1, -50)).tickSize(5));
xa.select(".domain").remove();
xa.selectAll("text").attr("font-size", 14).attr("font-family", "DejaVu Sans");
const xm = svg.append("g").attr("transform", "translate(0,1017)")
  .call(d3.axisBottom(x).tickValues(d3.range(800, -1, -10)).tickSize(3).tickFormat(""));
xm.select(".domain").remove();
svg.append("text").attr("x", (L + R) / 2).attr("y", 1056).attr("text-anchor", "middle").attr("font-size", 16).text("Age [ka]");

// y labels
function ylab(lines, cy, col, xs) {
  lines.forEach((t, k) => {
    svg.append("text").attr("transform", `translate(${xs[k]},${cy}) rotate(-90)`)
      .attr("text-anchor", "middle").attr("font-size", 14).attr("fill", col).text(t);
  });
}
ylab(["Number of", "records"], 73, "#000", [21, 39]);
ylab(["Temperature anomaly", "[°C]"], 235, "#800080", [21, 39]);
ylab(["Temperature anomaly", "[°C]"], 483, "#ff8c00", [21, 39]);
ylab(["Temperature anomaly", "[°C]"], 690, "#8b0000", [21, 39]);
ylab(["Temperature anomaly", "[°C]"], 895, "#000", [21, 39]);

// legends
function legBox(x0, y0, w, h) {
  svg.append("rect").attr("x", x0).attr("y", y0).attr("width", w).attr("height", h).attr("rx", 3)
    .attr("fill", "#fff").attr("fill-opacity", 0.8).attr("stroke", "#ccc");
}
function tcdw(t, pre) {
  if (pre) t.append("tspan").text(pre);
  t.append("tspan").attr("font-style", "italic").text("T");
  t.append("tspan").attr("font-style", "italic").attr("font-size", 10).attr("dy", 3).text("CDW");
  return t.append("tspan").attr("dy", -3);
}
function legLine(x0, y0, col, w, dash) {
  svg.append("line").attr("x1", x0).attr("x2", x0 + 28).attr("y1", y0).attr("y2", y0)
    .attr("stroke", col).attr("stroke-width", w).attr("stroke-dasharray", dash || null);
}
// panel 2
legBox(80, 122, 1182, 30);
legLine(86, 137, "#000", 2);
tcdw(svg.append("text").attr("x", 126).attr("y", 142).attr("font-size", 14), "CDW temperature (").text("): mean & 95% C.I.");
svg.append("path").attr("d", d3.symbol().type(d3.symbolTriangle).size(30)()).attr("transform", "translate(483,137)")
  .attr("fill", "none").attr("stroke", "red");
svg.append("text").attr("x", 502).attr("y", 142).attr("font-size", 14).text("Mg/Ca");
svg.append("circle").attr("cx", 590).attr("cy", 137).attr("r", 4.6).attr("fill", "none").attr("stroke", "blue");
{
  const t = svg.append("text").attr("x", 613).attr("y", 142).attr("font-size", 14).text("δ");
  t.append("tspan").attr("font-size", 10).attr("dy", -5).text("18");
  t.append("tspan").attr("dy", 5).text("O");
  t.append("tspan").attr("font-style", "italic").attr("font-size", 10).attr("dy", 3).text("b");
}
// panel 3
legBox(80, 368, 400, 27);
legLine(86, 381, "#000", 3);
tcdw(svg.append("text").attr("x", 126).attr("y", 386).attr("font-size", 14)).text(": mean & 95% C.I.");
legLine(318, 381, "#ff8c00", 2);
{
  const t = svg.append("text").attr("x", 358).attr("y", 386).attr("font-size", 14);
  t.append("tspan").attr("font-style", "italic").text("T");
  t.append("tspan").attr("font-style", "italic").attr("font-size", 10).attr("dy", 3).text("NADW");
  t.append("tspan").attr("dy", -3).text(" (ODP 980)");
}
// panel 4
legBox(80, 613, 255, 25);
legLine(86, 626, "#8b0000", 2);
svg.append("text").attr("x", 126).attr("y", 631).attr("font-size", 14).text("EAIS surface air temperature");
// panel 5
legBox(80, 778, 580, 26);
legLine(86, 791, "#000", 3);
tcdw(svg.append("text").attr("x", 126).attr("y", 796).attr("font-size", 14)).text(": mean & 95% C.I.");
legLine(318, 791, "#00c8d0", 2);
svg.append("text").attr("x", 357).attr("y", 796).attr("font-size", 14).text("Southern Ocean SST");
legLine(531, 791, "#00008b", 2, "7,4");
svg.append("text").attr("x", 570).attr("y", 796).attr("font-size", 14).text("Global DWT");
</script></body></html>
